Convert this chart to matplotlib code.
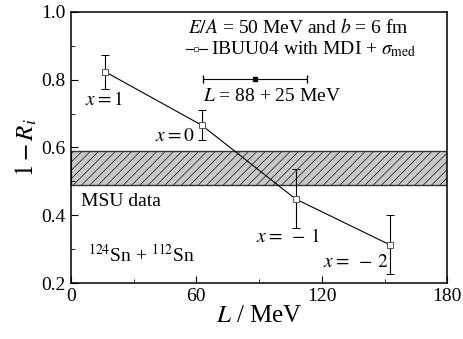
import matplotlib
matplotlib.use("Agg")
import matplotlib.pyplot as plt

plt.rcParams['font.family'] = ['Liberation Serif', 'DejaVu Serif']
plt.rcParams['mathtext.fontset'] = 'stix'
plt.rcParams['hatch.linewidth'] = 0.6

# data
L_vals = [16.5, 62.5, 107.5, 152.5]
ri_vals = [0.823, 0.666, 0.448, 0.313]
err_up = [0.050, 0.045, 0.087, 0.087]
err_dn = [0.050, 0.045, 0.085, 0.085]
x_labels = ['$x = 1$', '$x = 0$', r'$x =\ -\,1$', r'$x =\ -\,2$']
msu_band = [0.49, 0.59]
L_fit = 88
L_fit_err = 25

fig = plt.figure(figsize=(4.63, 3.39), dpi=100)
ax = fig.add_axes([0.153, 0.165, 0.813, 0.80])

ax.fill_between([0, 180], msu_band[0], msu_band[1], facecolor='#c8c8c8',
                edgecolor='#333333', hatch='////', linewidth=0.8)
ax.axhline(msu_band[0], color='#333333', lw=0.9)
ax.axhline(msu_band[1], color='#333333', lw=0.9)

ax.errorbar(L_vals, ri_vals, yerr=[err_dn, err_up], color='black', lw=0.8,
            marker='s', ms=4, mfc='white', mec='#555555', mew=0.7,
            capsize=3, elinewidth=0.8)

# horizontal bar for L
ax.errorbar([L_fit], [0.803], xerr=[L_fit_err], color='black', lw=0.8,
            marker='s', ms=3.5, capsize=3)

label_pos = [(16, 0.74), (49.5, 0.632), (104, 0.336), (136, 0.262)]
for lab, (lx, ly) in zip(x_labels, label_pos):
    ax.text(lx, ly, lab, fontsize=14, ha='center', va='center')

ax.text(56, 0.955, '$E/A$ = 50 MeV and $b$ = 6 fm', fontsize=14, va='center')
ax.plot([55, 65], [0.89, 0.89], color='black', lw=0.8)
ax.plot([60], [0.89], marker='s', ms=3, mfc='white', mec='#555555', mew=0.6)
ax.text(67, 0.89, r'IBUU04 with MDI + $\sigma_{\mathrm{med}}$', fontsize=14, va='center')
ax.text(63, 0.75, '$L$ = 88 + 25 MeV', fontsize=14, va='center')

ax.text(5, 0.44, 'MSU data', fontsize=14, va='center')
ax.text(8, 0.285, r'$^{124}$Sn + $^{112}$Sn', fontsize=14, va='center')

ax.set_xlim(0, 180)
ax.set_ylim(0.2, 1.0)
ax.set_xticks([0, 60, 120, 180])
ax.set_xticks([30, 90, 150], minor=True)
ax.set_yticks([0.2, 0.4, 0.6, 0.8, 1.0])
ax.set_yticklabels(['0.2', '0.4', '0.6', '0.8', '1.0'])
ax.set_yticks([0.3, 0.5, 0.7, 0.9], minor=True)
ax.tick_params(which='both', direction='in', labelsize=14)
ax.tick_params(which='major', length=5)
ax.tick_params(which='minor', length=3)
for s in ax.spines.values():
    s.set_linewidth(1.1)

ax.set_xlabel('$L$ / MeV', fontsize=18, labelpad=0)
ax.set_ylabel('$1-R_i$', fontsize=18, labelpad=2)

plt.savefig('out.png', dpi=100)
